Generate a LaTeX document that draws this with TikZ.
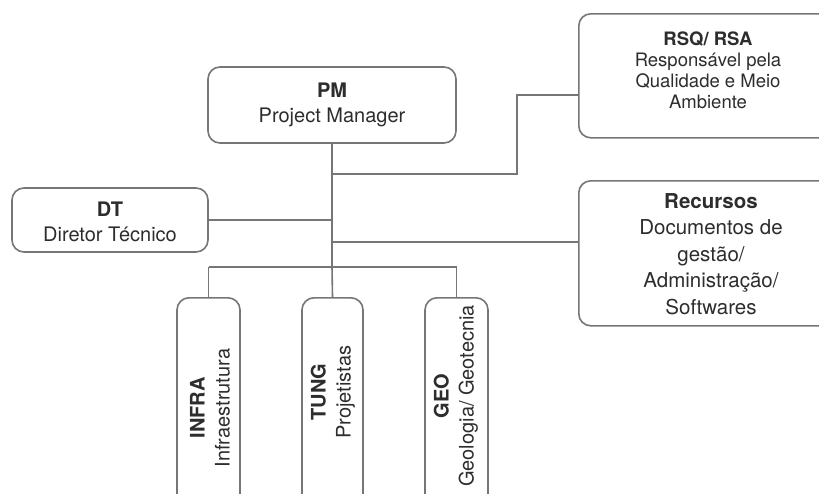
\documentclass[tikz,border=0pt]{standalone}
\usepackage{fontspec}
\setmainfont{TeX Gyre Heros}
\definecolor{linegray}{RGB}{118,118,118}
\definecolor{textgray}{RGB}{45,45,45}
\tikzset{
  orgbox/.style={draw=linegray, line width=1.6pt, rounded corners=12pt, fill=white, inner sep=0pt},
  orgtext/.style={align=center, text=textgray, inner sep=0pt, font=\fontsize{20}{25}\selectfont},
  smalltext/.style={align=center, text=textgray, inner sep=0pt, font=\fontsize{18.5}{21}\selectfont},
  widetext/.style={align=center, text=textgray, inner sep=0pt, font=\fontsize{20.5}{26.5}\selectfont},
  link/.style={draw=linegray, line width=1.6pt}
}
\begin{document}
\begin{tikzpicture}[x=1pt,y=-1pt]
\useasboundingbox (0,0) rectangle (819,493);
\clip (0,0) rectangle (819,493);
\fill[white] (0,0) rectangle (819,493);

% junction points on the vertical trunk
\coordinate (jtop) at (332,143);
\coordinate (jq) at (332,174);
\coordinate (jqbend) at (517,95);
\coordinate (jdt) at (332,220);
\coordinate (jrec) at (332,242);
\coordinate (jbar) at (332,267);
\coordinate (jbarl) at (208.5,267);
\coordinate (jbarr) at (456.5,267);

% boxes
\node[orgbox, minimum width=248pt, minimum height=76pt] (pm) at (332,105) {};
\node[orgbox, minimum width=262pt, minimum height=124pt, anchor=north west] (rsq) at (578,13) {};
\node[orgbox, minimum width=196pt, minimum height=64pt] (dt) at (110,220) {};
\node[orgbox, minimum width=262pt, minimum height=145pt, anchor=north west] (rec) at (578,180) {};
\node[orgbox, minimum width=63pt, minimum height=240pt, anchor=north] (infra) at (208.5,297) {};
\node[orgbox, minimum width=61pt, minimum height=240pt, anchor=north] (tung) at (332.5,297) {};
\node[orgbox, minimum width=63pt, minimum height=240pt, anchor=north] (geo) at (456.5,297) {};

% connectors
\draw[link] (pm.south) -- (jbar);
\draw[link] (jq) -| (jqbend) -- (jqbend -| rsq.west);
\draw[link] (jrec) -- (jrec -| rec.west);
\draw[link] (jbarl) -- (jbarr);
\draw[link] (dt.east) -- (jdt);
\draw[link] (jbarl) -- (infra.north);
\draw[link] (jbar) -- (tung.north);
\draw[link] (jbarr) -- (geo.north);

% texts
\node[orgtext] (pmt) at (332,105) {\textbf{PM}\\Project Manager};
\node[smalltext] (rsqt) at (708,70) {\textbf{RSQ/ RSA}\\Responsável pela\\Qualidade e Meio\\Ambiente};
\node[orgtext] (dtt) at (110,222) {\textbf{DT}\\Diretor Técnico};
\node[widetext] (rect) at (711,254) {\textbf{Recursos}\\Documentos de\\gestão/\\Administração/\\Softwares};
\node[orgtext, rotate=90] (infrat) at (210,408) {\textbf{INFRA}\\Infraestrutura};
\node[orgtext, rotate=90] (tungt) at (333,392) {\textbf{TUNG}\\Projetistas};
\node[orgtext, rotate=90] (geot) at (456,396) {\textbf{GEO}\\Geologia/ Geotecnia};
\end{tikzpicture}
\end{document}
